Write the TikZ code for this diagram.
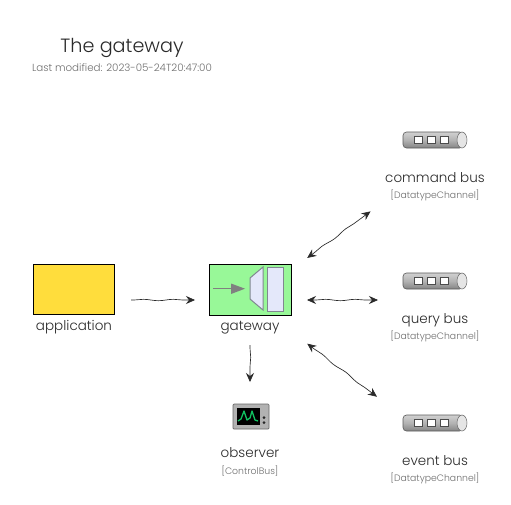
\documentclass[tikz,border=0pt]{standalone}
\usepackage{fontspec}
\setmainfont{Poppins}[UprightFont=* Light]
\usetikzlibrary{arrows.meta,decorations.pathmorphing,calc}
\definecolor{ink}{HTML}{2A2A2A}
\definecolor{soft}{HTML}{6E6E6E}
\definecolor{pipe}{HTML}{A8A8A8}
\definecolor{pane}{HTML}{E4E8FA}
\definecolor{paneedge}{HTML}{808890}
\definecolor{trace}{HTML}{10C060}
\tikzset{
  title/.style={text=ink,font=\fontsize{19.2}{22}\selectfont},
  subtitle/.style={text=soft,font=\fontsize{10.3}{12}\selectfont},
  label/.style={text=ink,font=\fontsize{13.5}{16}\selectfont},
  kind/.style={text=soft,font=\fontsize{9.3}{11}\selectfont},
  group/.style={inner sep=0pt,outer sep=0pt},
  solidbox/.style={draw=black,line width=.7pt},
  flow/.style={draw=ink,line width=.65pt,-{Stealth[length=9pt,width=8pt,inset=3pt]},
    decorate,decoration={snake,segment length=30pt,amplitude=.7pt,pre length=3pt,post length=9pt}},
  flowboth/.style={flow,{Stealth[length=9pt,width=8pt,inset=3pt]}-{Stealth[length=9pt,width=8pt,inset=3pt]},
    decoration={snake,segment length=30pt,amplitude=.7pt,pre length=9pt,post length=9pt}},
}
\newcommand{\channelicon}[2]{%
  \begin{scope}[shift={(#1,#2)}]
    \draw[top color=black!18,bottom color=black!48,middle color=black!30,draw=black!65,line width=.6pt,rounded corners=3.5pt] (0,-8) rectangle (60,8);
    \fill[black!10,draw=black!60,line width=.5pt] (59,0) ellipse [x radius=5,y radius=8];
    \foreach \q in {11,24,37}
      \draw[fill=white,draw=black!70,line width=.9pt] (\q,-3.5) rectangle ++(8.5,7);
  \end{scope}}
\begin{document}
\begin{tikzpicture}[x=1pt,y=-1pt]
\useasboundingbox (0,0) rectangle (511,504);
\fill[white] (0,0) rectangle (511,504);

\node[title] (heading) at (122,48) {The gateway};
\node[subtitle] (modified) at (122,68) {Last modified: 2023-05-24T20:47:00};

% application
\node[group,minimum width=81pt,minimum height=72pt] (application) at (73.5,300) {};
\node[solidbox,fill={rgb,255:red,255;green,221;blue,60},minimum width=81pt,minimum height=50pt,inner sep=0pt] (appbox) at (73.5,289) {};
\node[label] (applabel) at (74,327) {application};

% gateway
\node[group,minimum width=82pt,minimum height=72pt] (gateway) at (250,300) {};
\node[solidbox,fill={rgb,255:red,152;green,248;blue,152},minimum width=82pt,minimum height=51pt,inner sep=0pt] (gwbox) at (250,289.5) {};
\node[label] (gwlabel) at (250,328) {gateway};
\draw[paneedge,line width=1pt,fill=pane] (250,278) -- (263,267) -- (263,310) -- (250,299) -- cycle;
\draw[paneedge,line width=1pt,fill=pane] (267,267) rectangle (283,311);
\draw[draw=black!50,line width=1.2pt] (213,288.7) -- (233,288.7);
\fill[black!50] (245,288.7) -- (231,283.5) -- (231,294) -- cycle;

% observer
\node[group,minimum width=70pt,minimum height=74pt] (observer) at (250,441) {};
\draw[fill=black!30,draw=black!60,line width=.7pt,rounded corners=1pt] (233,404) rectangle (269,429);
\fill[black] (237,408) rectangle (260,425);
\draw[trace,line width=1.3pt,line join=round] (238,421) -- (241,419) -- (244,411) -- (247,420) -- (250,418) -- (252,411) -- (255,420) -- (258,421);
\fill[black!85] (264,417.5) circle (1.5pt) (264,422.5) circle (1.5pt);
\node[label] (obslabel) at (250,453) {observer};
\node[kind] (obskind) at (250,471) {[ControlBus]};

% command bus
\node[group,minimum width=100pt,minimum height=74pt] (command) at (435,164) {};
\channelicon{403}{140}
\node[label] (cmdlabel) at (435,178) {command bus};
\node[kind] (cmdkind) at (435,195) {[DatatypeChannel]};

% query bus
\node[group,minimum width=100pt,minimum height=74pt] (query) at (435,300) {};
\channelicon{403}{281}
\node[label] (qrylabel) at (435,320) {query bus};
\node[kind] (qrykind) at (435,336) {[DatatypeChannel]};

% event bus
\node[group,minimum width=100pt,minimum height=74pt] (event) at (435,441) {};
\channelicon{403}{423}
\node[label] (evtlabel) at (435,461) {event bus};
\node[kind] (evtkind) at (435,478) {[DatatypeChannel]};

% connectors
\draw[flow] ($(application.east)+(17,0)$) -- ($(gateway.west)+(-14,0)$);
\draw[flow] ($(gateway.south)+(0,9)$) -- ($(observer.north)+(0,-22)$);
\draw[flowboth] ($(gateway.center)!71pt!(command.center)$) -- ($(command.center)!80pt!(gateway.center)$);
\draw[flowboth] ($(gateway.east)+(16,0)$) -- ($(query.west)+(-7,0)$);
\draw[flowboth] ($(gateway.center)!72pt!(event.center)$) -- ($(event.center)!73pt!(gateway.center)$);
\end{tikzpicture}
\end{document}
